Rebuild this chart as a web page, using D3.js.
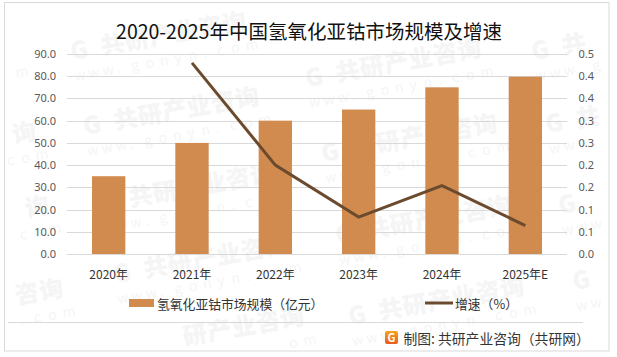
<!DOCTYPE html>
<html>
<head>
<meta charset="utf-8">
<script src="https://cdnjs.cloudflare.com/ajax/libs/d3/7.8.5/d3.min.js"></script>
<style>
  html, body { margin: 0; padding: 0; background: #fff; }
  svg { display: block; }
  text { font-family: "Noto Sans CJK SC", "Noto Sans", sans-serif; }
</style>
</head>
<body>
<div id="chart"></div>
<script>
const years = ["2020年", "2021年", "2022年", "2023年", "2024年", "2025年E"];
const marketSize = [35, 50, 60, 65, 75, 79.8];
const growth = [null, 0.43, 0.2, 0.083, 0.154, 0.064];
const leftTicks = [0, 10, 20, 30, 40, 50, 60, 70, 80, 90];
const rightTicks = [0, 0.05, 0.1, 0.15, 0.2, 0.25, 0.3, 0.35, 0.4, 0.45];
const rightLabels = ["0.0", "0.1", "0.1", "0.2", "0.2", "0.3", "0.3", "0.4", "0.4", "0.5"];
// watermark start points
const marks = [
  [-158, 87], [-138, 170], [-125, 244], [-111, 327],
  [72, 60], [85, 135], [100, 212], [115, 283], [130, 355],
  [307, 87], [323, 162], [337, 244], [350, 325],
  [533, 60], [547, 133], [560, 214], [574, 290]
];
const markName = "G共研产业咨询".split("");
const markSite = "www.gonyn.com".split("");

const width = 617;
const height = 357;

const svg = d3.select("#chart")
  .append("svg")
  .attr("width", width)
  .attr("height", height);

const defs = svg.append("defs");
const logoGradient = defs.append("linearGradient")
  .attr("id", "logo-gradient")
  .attr("x1", "0%").attr("y1", "0%")
  .attr("x2", "0%").attr("y2", "100%");
logoGradient.append("stop").attr("offset", "0%").attr("stop-color", "#f9a31c");
logoGradient.append("stop").attr("offset", "100%").attr("stop-color", "#ea5a1e");

// Watermarks sit under everything else. Written glyph by glyph along the slant,
// and only the glyphs that fit inside the frame are kept.
const angle = -10 * Math.PI / 180;

function markGlyphs(chars, offset, dx, dy, maxX) {
  return marks.flatMap(m => chars.map((c, i) => ({
    c,
    x: m[0] + dx + offset(i) * Math.cos(angle),
    y: m[1] + dy + offset(i) * Math.sin(angle)
  }))).filter(d => d.x > 7 && d.x < maxX && d.y > 30 && d.y < 349);
}

svg.selectAll("text.wm-name")
  .data(markGlyphs(markName, i => (i === 0 ? 0 : 6 + i * 24.7), 0, 0, 584))
  .join("text")
  .attr("class", "wm-name")
  .attr("transform", d => `translate(${d.x},${d.y}) rotate(-10)`)
  .attr("font-size", 24)
  .attr("font-weight", 900)
  .attr("fill", "#f5f5f5")
  .text(d => d.c);

svg.selectAll("text.wm-site")
  .data(markGlyphs(markSite, i => i * 14.5, 3, 21, 598))
  .join("text")
  .attr("class", "wm-site")
  .attr("transform", d => `translate(${d.x},${d.y}) rotate(-10)`)
  .attr("font-size", 14)
  .attr("fill", "#f5f5f5")
  .text(d => d.c);

// Outer frame
svg.append("rect")
  .attr("x", 4.5).attr("y", 2.5)
  .attr("width", 604.5).attr("height", 348.5)
  .attr("fill", "none")
  .attr("stroke", "#d9d9d9")
  .attr("stroke-width", 1);

const x = d3.scaleBand()
  .domain(years)
  .range([67, 567])
  .paddingInner(0.6)
  .paddingOuter(0.3);

const y = d3.scaleLinear().domain([0, 90]).range([254, 54]);
const yRight = d3.scaleLinear().domain([0, 0.45]).range([254, 54]);

// Gridlines
svg.selectAll("line.grid")
  .data(leftTicks)
  .join("line")
  .attr("class", "grid")
  .attr("x1", 67)
  .attr("x2", 567)
  .attr("y1", d => Math.round(y(d)) + 0.5)
  .attr("y2", d => Math.round(y(d)) + 0.5)
  .attr("stroke", "#d9d9d9")
  .attr("stroke-width", 1);

svg.selectAll("rect.bar")
  .data(marketSize)
  .join("rect")
  .attr("class", "bar")
  .attr("x", (d, i) => x(years[i]))
  .attr("y", d => y(d))
  .attr("width", x.bandwidth())
  .attr("height", d => y(0) - y(d))
  .attr("fill", "#d18b4f");

const line = d3.line()
  .defined(d => d !== null)
  .x((d, i) => x(years[i]) + x.bandwidth() / 2)
  .y(d => yRight(d));

svg.append("path")
  .datum(growth)
  .attr("d", line)
  .attr("fill", "none")
  .attr("stroke", "#6b4a2e")
  .attr("stroke-width", 3);

// Axes
const axisLeft = d3.axisLeft(y)
  .tickValues(leftTicks)
  .tickSize(0)
  .tickPadding(11)
  .tickFormat(d => d.toFixed(1));

const axisRight = d3.axisRight(yRight)
  .tickValues(rightTicks)
  .tickSize(0)
  .tickPadding(0)
  .tickFormat((d, i) => rightLabels[i]);

const axisBottom = d3.axisBottom(x)
  .tickSize(0)
  .tickPadding(16);

const gLeft = svg.append("g").attr("transform", "translate(67,0)").call(axisLeft);
const gRight = svg.append("g").attr("transform", "translate(578.5,0)").call(axisRight);
const gBottom = svg.append("g").attr("transform", "translate(0,254)").call(axisBottom);

[gLeft, gRight].forEach(g => {
  g.select(".domain").remove();
  g.selectAll("text")
    .attr("font-size", 11)
    .attr("fill", "#595959")
    .style("font-family", '"Noto Sans", sans-serif');
});

gBottom.select(".domain").remove();
gBottom.selectAll("text")
  .attr("font-size", 12)
  .attr("fill", "#333");

// Title
svg.append("text")
  .attr("x", 309)
  .attr("y", 39)
  .attr("text-anchor", "middle")
  .attr("font-size", 19.5)
  .attr("fill", "#111")
  .text("2020-2025年中国氢氧化亚钴市场规模及增速");

// Legend
svg.append("rect")
  .attr("x", 129).attr("y", 299)
  .attr("width", 25).attr("height", 8)
  .attr("fill", "#d18b4f");

svg.append("text")
  .attr("x", 157).attr("y", 309)
  .attr("font-size", 12.8)
  .attr("fill", "#333")
  .text("氢氧化亚钴市场规模（亿元）");

svg.append("line")
  .attr("x1", 425).attr("x2", 453)
  .attr("y1", 303).attr("y2", 303)
  .attr("stroke", "#6b4a2e")
  .attr("stroke-width", 3);

svg.append("text")
  .attr("x", 455).attr("y", 309)
  .attr("font-size", 12.8)
  .attr("fill", "#333")
  .text("增速（%）");

// Footer
svg.append("line")
  .attr("x1", 8).attr("x2", 583)
  .attr("y1", 322.5).attr("y2", 322.5)
  .attr("stroke", "#d9d9d9");

svg.append("rect")
  .attr("x", 385).attr("y", 331)
  .attr("width", 13).attr("height", 13)
  .attr("rx", 2)
  .attr("fill", "url(#logo-gradient)");

svg.append("text")
  .attr("x", 391.5).attr("y", 342)
  .attr("text-anchor", "middle")
  .attr("font-size", 11)
  .attr("font-weight", 700)
  .attr("fill", "#fff")
  .text("G");

svg.append("text")
  .attr("x", 403.5).attr("y", 344)
  .attr("font-size", 13.8)
  .attr("fill", "#333")
  .text("制图: 共研产业咨询（共研网）");
</script>
</body>
</html>
